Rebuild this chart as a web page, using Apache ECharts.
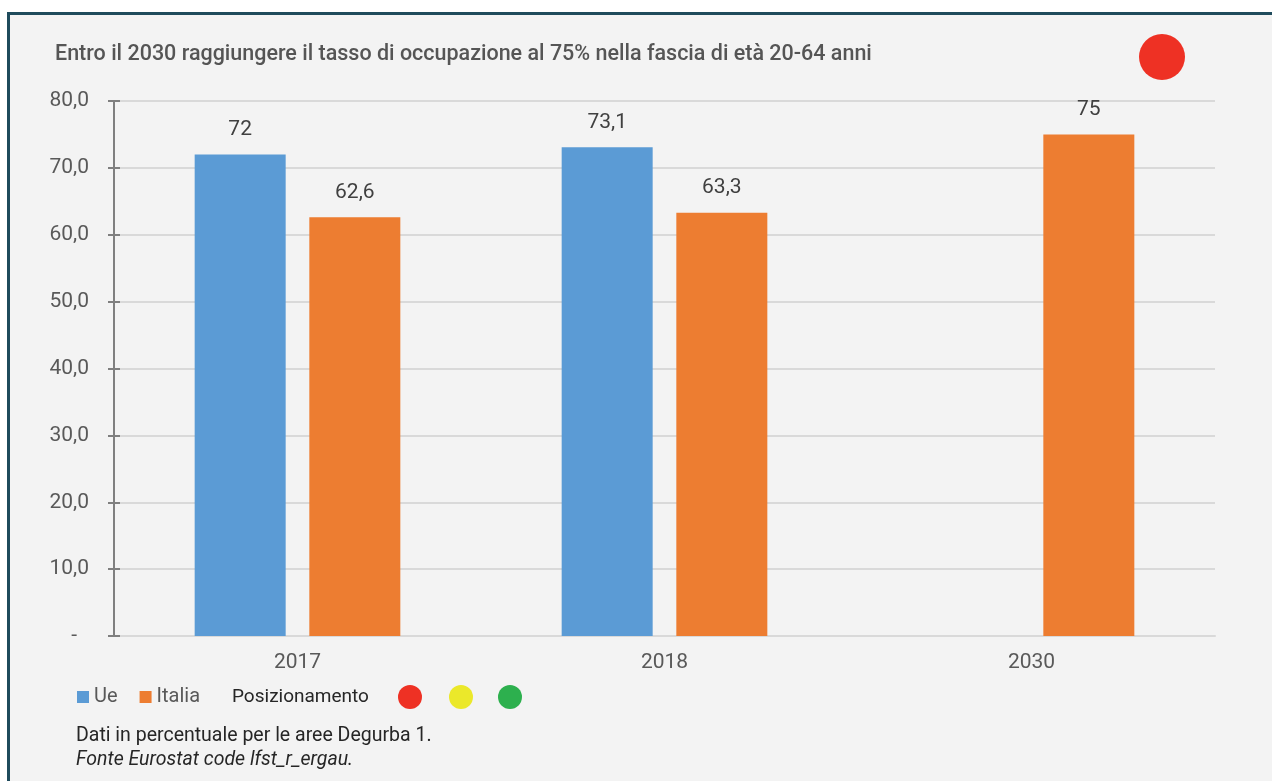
<!DOCTYPE html>
<html>
<head>
<meta charset="utf-8">
<script src="https://cdn.jsdelivr.net/npm/echarts@6/dist/echarts.min.js"></script>
<style>
html,body{margin:0;padding:0;background:#fff;}
#c{width:1272px;height:781px;}
</style>
</head>
<body>
<div id="c"></div>
<script>
const categories = ['2017', '2018', '2030'];
const ueValues = [72, 73.1, null];
const italiaValues = [62.6, 63.3, 75];
const yTicks = [0, 10, 20, 30, 40, 50, 60, 70, 80];
const titleText = 'Entro il 2030 raggiungere il tasso di occupazione al 75% nella fascia di età 20-64 anni';
const noteLines = ['Dati in percentuale per le aree Degurba 1.', 'Fonte Eurostat code lfst_r_ergau.'];
const positionColors = ['#ee3124', '#ebe82a', '#2db04e'];

const FONT = 'Roboto, "Noto Sans", sans-serif';
const chart = echarts.init(document.getElementById('c'), null, {renderer: 'canvas'});

function fmtTick(v) {
  if (v === 0) return '{d|-}';
  return v.toFixed(1).replace('.', ',');
}
function fmtLabel(p) {
  return String(p.value).replace('.', ',');
}

chart.setOption({
  backgroundColor: '#ffffff',
  animation: false,
  graphic: [
    {type: 'rect', z: -10, silent: true, shape: {x: 8.5, y: 13.5, width: 1300, height: 800},
     style: {fill: '#f3f3f3', stroke: '#1f4b5c', lineWidth: 3}},
    {type: 'text', x: 55, y: 55, style: {text: titleText, font: '500 21.5px ' + FONT, fill: '#555555', verticalAlign: 'middle'}},
    {type: 'circle', shape: {cx: 1162, cy: 57, r: 23}, style: {fill: positionColors[0]}},
    {type: 'text', x: 232, y: 697, style: {text: 'Posizionamento', font: '19px ' + FONT, fill: '#262626', verticalAlign: 'middle'}},
    {type: 'circle', shape: {cx: 410, cy: 697, r: 12}, style: {fill: positionColors[0]}},
    {type: 'circle', shape: {cx: 461, cy: 697, r: 12}, style: {fill: positionColors[1]}},
    {type: 'circle', shape: {cx: 510, cy: 697, r: 12}, style: {fill: positionColors[2]}},
    {type: 'text', x: 76, y: 736, style: {text: noteLines[0], font: '19.5px ' + FONT, fill: '#262626', verticalAlign: 'middle'}},
    {type: 'text', x: 76, y: 760, style: {text: noteLines[1], font: 'italic 19.5px ' + FONT, fill: '#262626', verticalAlign: 'middle'}}
  ],
  legend: {
    left: 77, top: 687, padding: 0,
    itemWidth: 12, itemHeight: 12, itemGap: 22,
    icon: 'rect',
    textStyle: {fontFamily: FONT, fontSize: 20, color: '#595959'},
    data: ['Ue', 'Italia']
  },
  grid: {left: 114, right: 57, top: 101, bottom: 145},
  xAxis: {
    type: 'category',
    data: categories,
    axisLine: {show: true, lineStyle: {color: '#d9d9d9', width: 2}},
    axisTick: {show: false},
    axisLabel: {fontFamily: FONT, fontSize: 21, color: '#595959', margin: 16}
  },
  yAxis: [
    {
      type: 'value', min: 0, max: 80, interval: 10,
      axisLine: {show: true, lineStyle: {color: '#7f7f7f', width: 2}},
      axisTick: {show: true, length: 6, lineStyle: {color: '#7f7f7f', width: 2}},
      axisLabel: {fontFamily: FONT, fontSize: 21, color: '#595959', margin: 25,
        formatter: function (v) { return fmtTick(v); },
        rich: {d: {fontFamily: FONT, fontSize: 21, color: '#595959', padding: [0, 12, 0, 0]}}},
      splitLine: {show: true, lineStyle: {color: '#d9d9d9', width: 2}}
    },
    {
      type: 'value', min: 0, max: 80, interval: 10, position: 'left', offset: 0,
      axisLine: {show: false},
      axisTick: {show: true, inside: true, length: 6, lineStyle: {color: '#7f7f7f', width: 2}},
      axisLabel: {show: false},
      splitLine: {show: false}
    }
  ],
  series: [
    {
      name: 'Ue', type: 'bar', data: ueValues, barWidth: 91, barGap: '26%',
      itemStyle: {color: '#5b9bd5'},
      label: {show: true, position: 'top', distance: 14, fontFamily: FONT, fontSize: 21, color: '#404040', formatter: fmtLabel}
    },
    {
      name: 'Italia', type: 'bar', data: italiaValues, barWidth: 91,
      itemStyle: {color: '#ed7d31'},
      label: {show: true, position: 'top', distance: 14, fontFamily: FONT, fontSize: 21, color: '#404040', formatter: fmtLabel}
    }
  ]
});
</script>
</body>
</html>
